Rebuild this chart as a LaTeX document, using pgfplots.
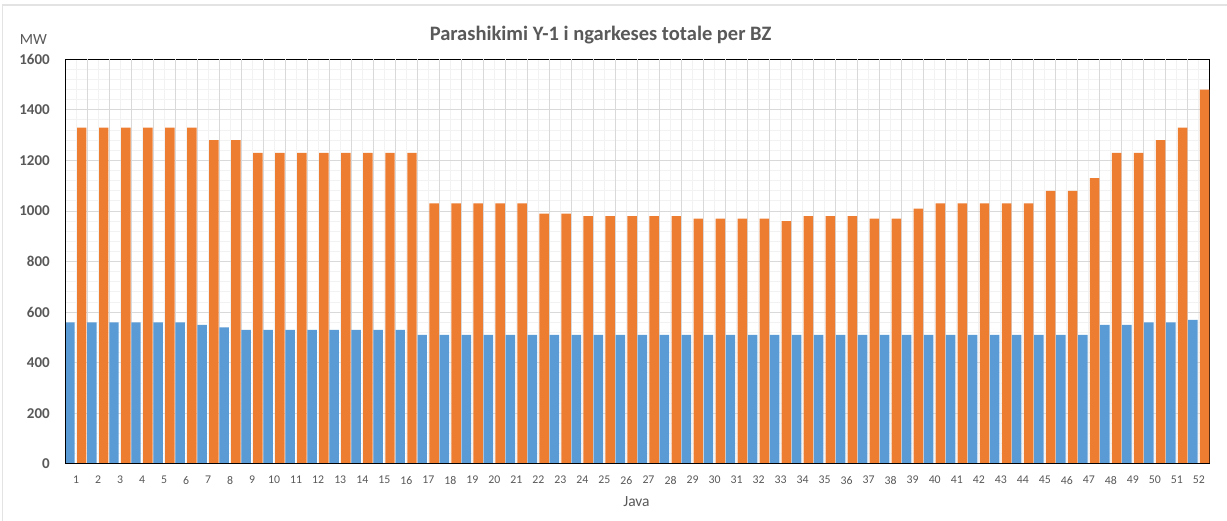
\documentclass[border=0pt]{standalone}
\usepackage{fontspec}
\setmainfont{Carlito}
\usepackage{pgfplots}
\usepackage{pgfplotstable}
\pgfplotsset{compat=1.18}
\definecolor{xblue}{HTML}{5B9BD5}
\definecolor{xorange}{HTML}{ED7D31}
\definecolor{txt}{HTML}{595959}
\pgfplotstableread{
week blue orange
1 560 1330
2 560 1330
3 560 1330
4 560 1330
5 560 1330
6 560 1330
7 550 1280
8 540 1280
9 530 1230
10 530 1230
11 530 1230
12 530 1230
13 530 1230
14 530 1230
15 530 1230
16 530 1230
17 510 1030
18 510 1030
19 510 1030
20 510 1030
21 510 1030
22 510 990
23 510 990
24 510 980
25 510 980
26 510 980
27 510 980
28 510 980
29 510 970
30 510 970
31 510 970
32 510 970
33 510 960
34 510 980
35 510 980
36 510 980
37 510 970
38 510 970
39 510 1010
40 510 1030
41 510 1030
42 510 1030
43 510 1030
44 510 1030
45 510 1080
46 510 1080
47 510 1130
48 550 1230
49 550 1230
50 560 1280
51 560 1330
52 570 1480
}\datatable
\begin{document}
\begin{tikzpicture}[x=1pt,y=1pt]
\useasboundingbox (0,0) rectangle (1227,521);
\fill[white] (0,0) rectangle (1227,521);
\draw[gray!22, line width=1.5pt] (2.5,0) -- (2.5,516) -- (1227,516);
\begin{axis}[
  at={(65pt,57pt)}, anchor=south west, scale only axis,
  width=1145pt, height=404.7pt,
  xmin=0.5, xmax=52.5, ymin=0, ymax=1600,
  xtick={1,...,52}, minor xtick={1,...,52},
  ytick={0,200,...,1600}, minor y tick num=4,
  major tick length=0pt, minor tick length=0pt,
  xmajorgrids=false, xminorgrids=true,
  ymajorgrids=true, yminorgrids=true,
  major grid style={gray!30, line width=1pt},
  minor grid style={gray!10, line width=1pt},
  extra x ticks={1.5,2.5,...,51.5}, extra x tick labels={},
  extra x tick style={grid=major, major grid style={gray!30, line width=1pt}},
  axis line style={black, line width=1pt},
  /pgf/number format/assume math mode=true,
  /pgf/number format/1000 sep={},
  xticklabel style={font=\fontsize{11.8}{12}\selectfont, text=txt, inner sep=0pt, anchor=north},
  xticklabel shift=12pt,
  yticklabel style={font=\bfseries\fontsize{15}{17}\selectfont, text=txt, inner sep=0pt, anchor=east},
  yticklabel shift=15pt,
  clip=true,
]
\addplot[ybar, bar width=0.43, bar shift=-0.275, fill=xblue, draw=none] table[x=week, y=blue] {\datatable};
\addplot[ybar, bar width=0.43, bar shift=0.26, fill=xorange, draw=none] table[x=week, y=orange] {\datatable};
\draw[black, line width=2pt] (rel axis cs:0,1) -- (rel axis cs:0,0) -- (rel axis cs:1,0);
\end{axis}
\node[font=\bfseries\fontsize{20.5}{24}\selectfont, text=txt] at (600.5,486) {Parashikimi Y-1 i ngarkeses totale per BZ};
\node[font=\fontsize{15.5}{18}\selectfont, text=txt] at (33.5,481) {MW};
\node[font=\fontsize{15.5}{18}\selectfont, text=txt] at (636.5,19.3) {Java};
\end{tikzpicture}
\end{document}
